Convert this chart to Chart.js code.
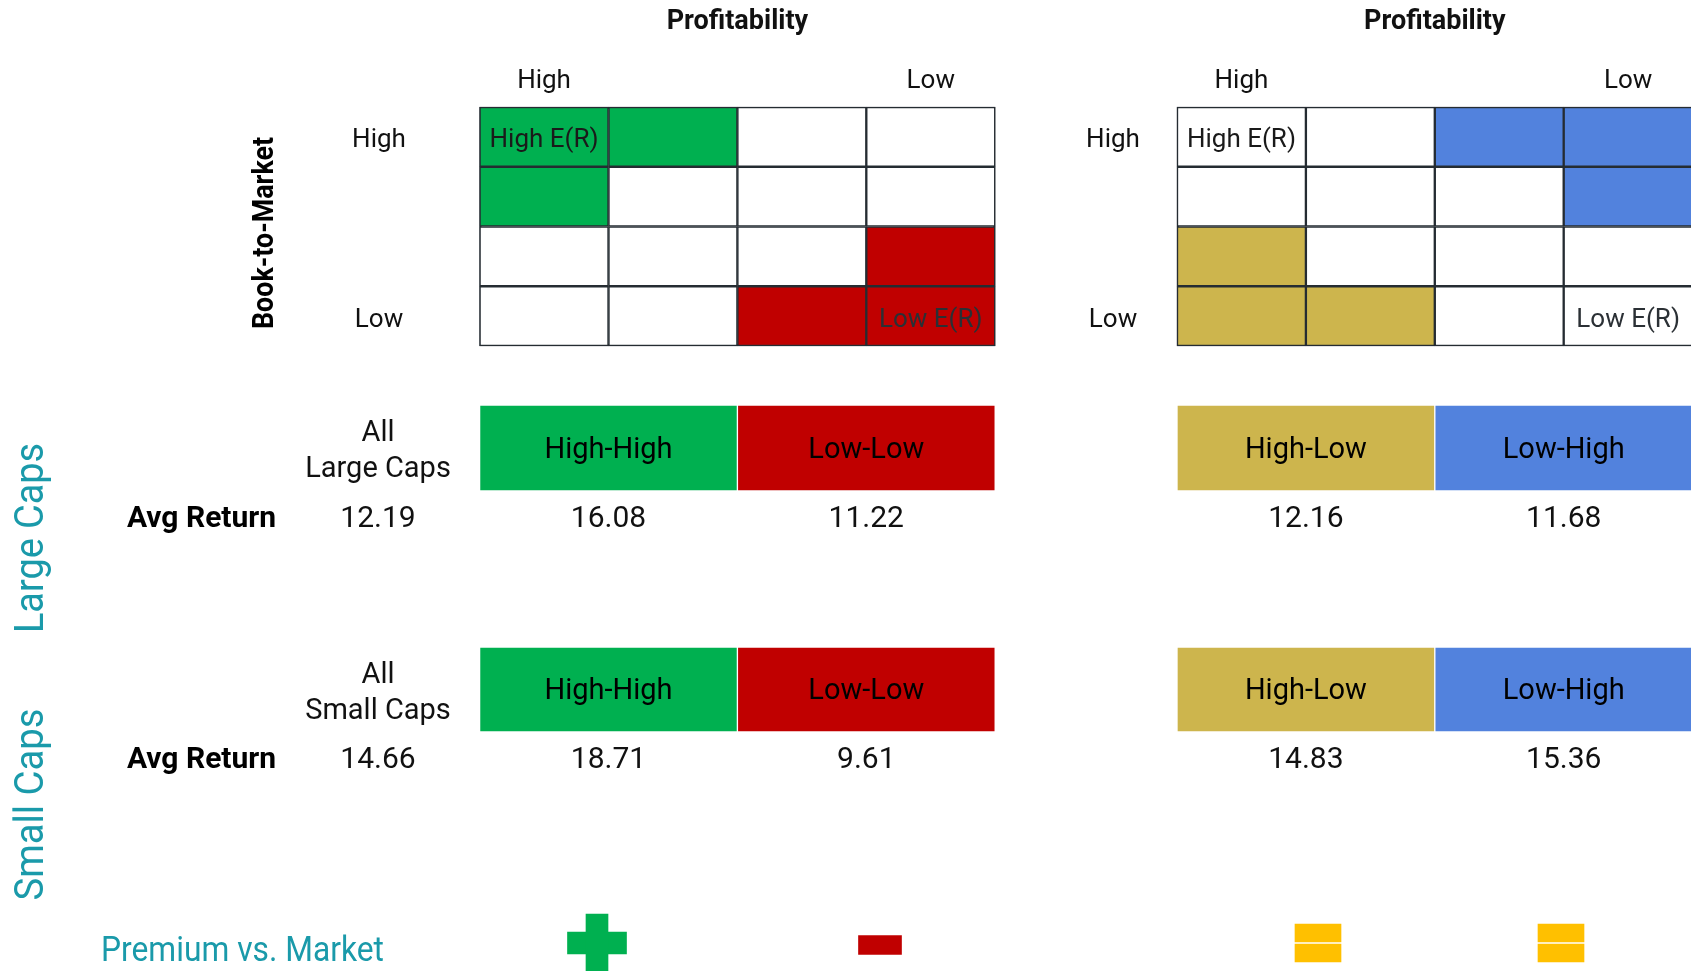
<!DOCTYPE html>
<html>
<head>
<meta charset="utf-8">
<script src="https://cdn.jsdelivr.net/npm/chart.js@4/dist/chart.umd.min.js"></script>
<style>
html,body{margin:0;padding:0;background:#fff;overflow:hidden}
#wrap{position:relative;width:1691px;height:971px}
</style>
</head>
<body>
<div id="wrap"><canvas id="c" width="1691" height="971"></canvas></div>
<script>
// ------------------------- DATA -------------------------
const profitabilityLevels = ['High', 'Low'];
const bookToMarketLevels = ['High', 'Low'];
const cellNotes = ['High E(R)', 'Low E(R)'];
const sizeGroups = ['Large Caps', 'Small Caps'];
const portfolioNames = ['High-High', 'Low-Low', 'High-Low', 'Low-High'];
const allCapsReturns = [12.19, 14.66];
const largeCapReturns = [16.08, 11.22, 12.16, 11.68];
const smallCapReturns = [18.71, 9.61, 14.83, 15.36];
// premium vs. market: 1 = positive, -1 = negative, 0 = neutral
const premiumSigns = [1, -1, 0, 0];
// 4x4 sort grids (rows: book-to-market high->low, cols: profitability high->low)
// value = index of the portfolio the cell belongs to, -1 = not used
const leftGrid = [
  [0, 0, -1, -1],
  [0, -1, -1, -1],
  [-1, -1, -1, 1],
  [-1, -1, 1, 1]
];
const rightGrid = [
  [-1, -1, 3, 3],
  [-1, -1, -1, 3],
  [2, -1, -1, -1],
  [2, 2, -1, -1]
];

// ------------------------- LAYOUT / STYLE -------------------------
const W = 1691, H = 971;
const GRID_X = [479.6, 1177];
const GRID_Y = 107;
const COL_W = 128.9, ROW_H = 59.75;
const ROW_LABEL_X = [379, 1113];
const BAND_Y = [[406, 490], [648, 731]];
const ALL_X = 378, AVG_X = 201.5;
const ICON_X = [597, 880, 1318, 1561];
const ICON_Y = 943;
const PORTFOLIO_COLORS = ['#00B050', '#C00000', '#CDB54D', '#5282DD'];
const LINE_COLOR = '#252c32';
const TEAL = '#1A9AAA';
const YELLOW = '#FFC000';
const FONT = 'Roboto, "Noto Sans", sans-serif';

// ------------------------- DATASETS -------------------------
const common = { grouped: false, borderSkipped: false, borderWidth: 0 };

const cellData = [], cellColors = [];
[leftGrid, rightGrid].forEach((grid, g) => grid.forEach((row, r) => row.forEach((p, c) => {
  cellData.push({ x: [GRID_X[g] + c * COL_W, GRID_X[g] + (c + 1) * COL_W], y: GRID_Y + (r + 0.5) * ROW_H });
  cellColors.push(p < 0 ? '#FFFFFF' : PORTFOLIO_COLORS[p]);
})));

const frameData = GRID_X.map(gx => ({ x: [gx, gx + 4 * COL_W], y: GRID_Y + 2 * ROW_H }));

function barSpan(p) {
  const g = p < 2 ? 0 : 1;
  const c0 = (p % 2) * 2;
  return [GRID_X[g] + c0 * COL_W + 1, GRID_X[g] + (c0 + 2) * COL_W - 1];
}

const bandSets = BAND_Y.map(([t, b]) => ({
  ...common,
  data: portfolioNames.map((n, p) => ({ x: barSpan(p), y: (t + b) / 2 })),
  backgroundColor: PORTFOLIO_COLORS,
  barThickness: b - t
}));

const plusV = [], plusH = [], minus = [], eqTop = [], eqBot = [];
premiumSigns.forEach((s, i) => {
  const x = ICON_X[i];
  if (s > 0) {
    plusV.push({ x: [x - 11, x + 11], y: ICON_Y - 0.5 });
    plusH.push({ x: [x - 29.5, x + 29.5], y: ICON_Y });
  } else if (s < 0) {
    minus.push({ x: [x - 21.5, x + 21.5], y: ICON_Y + 2 });
  } else {
    eqTop.push({ x: [x - 23, x + 23], y: ICON_Y - 10 });
    eqBot.push({ x: [x - 23, x + 23], y: ICON_Y + 10 });
  }
});

const datasets = [
  { ...common, data: cellData, backgroundColor: cellColors, borderColor: LINE_COLOR, borderWidth: 1.5, barThickness: ROW_H },
  { ...common, data: frameData, backgroundColor: 'rgba(0,0,0,0)', borderColor: LINE_COLOR, borderWidth: 1.5, barThickness: 4 * ROW_H },
  ...bandSets,
  { ...common, data: plusV, backgroundColor: PORTFOLIO_COLORS[0], barThickness: 57 },
  { ...common, data: plusH, backgroundColor: PORTFOLIO_COLORS[0], barThickness: 22 },
  { ...common, data: minus, backgroundColor: PORTFOLIO_COLORS[1], barThickness: 19 },
  { ...common, data: eqTop, backgroundColor: YELLOW, barThickness: 18 },
  { ...common, data: eqBot, backgroundColor: YELLOW, barThickness: 18 }
];

// ------------------------- TEXT PLUGIN -------------------------
function txt(ctx, s, x, y, font, color, align, maxW) {
  ctx.font = font;
  ctx.fillStyle = color;
  ctx.textAlign = align || 'center';
  ctx.textBaseline = 'alphabetic';
  if (maxW) ctx.fillText(s, x, y, maxW); else ctx.fillText(s, x, y);
}
function vtxt(ctx, s, x, y, font, color, maxW) {
  ctx.save();
  ctx.translate(x, y);
  ctx.rotate(-Math.PI / 2);
  txt(ctx, s, 0, 0, font, color, 'center', maxW);
  ctx.restore();
}

const textPlugin = {
  id: 'labels',
  afterDatasetsDraw(chart) {
    const ctx = chart.ctx;
    const xs = chart.scales.x, ys = chart.scales.y;
    const X = v => xs.getPixelForValue(v);
    const Y = v => ys.getPixelForValue(v);
    ctx.save();
    GRID_X.forEach((gx, g) => {
      txt(ctx, 'Profitability', X(gx + 2 * COL_W), Y(29), 'bold 27px ' + FONT, '#111');
      txt(ctx, profitabilityLevels[0], X(gx + 0.5 * COL_W), Y(88), '26px ' + FONT, '#111');
      txt(ctx, profitabilityLevels[1], X(gx + 3.5 * COL_W), Y(88), '26px ' + FONT, '#111');
      txt(ctx, bookToMarketLevels[0], X(ROW_LABEL_X[g]), Y(GRID_Y + 0.5 * ROW_H + 10.5), '26px ' + FONT, '#111');
      txt(ctx, bookToMarketLevels[1], X(ROW_LABEL_X[g]), Y(GRID_Y + 3.5 * ROW_H + 10.5), '26px ' + FONT, '#111');
      txt(ctx, cellNotes[0], X(gx + 0.5 * COL_W), Y(GRID_Y + 0.5 * ROW_H + 10.5), '26px ' + FONT, '#1a1a1a');
      txt(ctx, cellNotes[1], X(gx + 3.5 * COL_W), Y(GRID_Y + 3.5 * ROW_H + 10.5), '26px ' + FONT, '#2b3035');
    });
    vtxt(ctx, 'Book-to-Market', X(273), Y(233), 'bold 30px ' + FONT, '#000', 192);

    const bandReturns = [largeCapReturns, smallCapReturns];
    BAND_Y.forEach(([t, b], k) => {
      const cy = (t + b) / 2;
      txt(ctx, 'All', X(ALL_X), Y(cy - 7), '29px ' + FONT, '#111');
      txt(ctx, sizeGroups[k], X(ALL_X), Y(cy + 29), '29px ' + FONT, '#111');
      txt(ctx, 'Avg Return', X(AVG_X), Y(cy + 78.6), 'bold 30px ' + FONT, '#000');
      txt(ctx, allCapsReturns[k].toFixed(2), X(ALL_X), Y(cy + 78.6), '30px ' + FONT, '#111');
      portfolioNames.forEach((n, p) => {
        const [a, e] = barSpan(p);
        const cx = (a + e) / 2;
        txt(ctx, n, X(cx), Y(cy + 9.5), '29px ' + FONT, '#000');
        txt(ctx, bandReturns[k][p].toFixed(2), X(cx), Y(cy + 78.6), '30px ' + FONT, '#111');
      });
    });

    vtxt(ctx, sizeGroups[0], X(43), Y(538), '40px ' + FONT, TEAL, 190);
    vtxt(ctx, sizeGroups[1], X(43), Y(804.5), '40px ' + FONT, TEAL, 192);
    txt(ctx, 'Premium vs. Market', X(101), Y(960.5), '35px ' + FONT, TEAL, 'left', 283);
    ctx.restore();
  }
};

// ------------------------- CHART -------------------------
new Chart(document.getElementById('c'), {
  type: 'bar',
  data: { datasets },
  options: {
    indexAxis: 'y',
    responsive: false,
    animation: false,
    devicePixelRatio: 1,
    events: [],
    layout: { padding: 0 },
    plugins: { legend: { display: false }, tooltip: { enabled: false }, title: { display: false } },
    scales: {
      x: { type: 'linear', min: 0, max: W, display: false, offset: false },
      y: { type: 'linear', min: 0, max: H, reverse: true, display: false, offset: false }
    }
  },
  plugins: [textPlugin]
});
</script>
</body>
</html>
